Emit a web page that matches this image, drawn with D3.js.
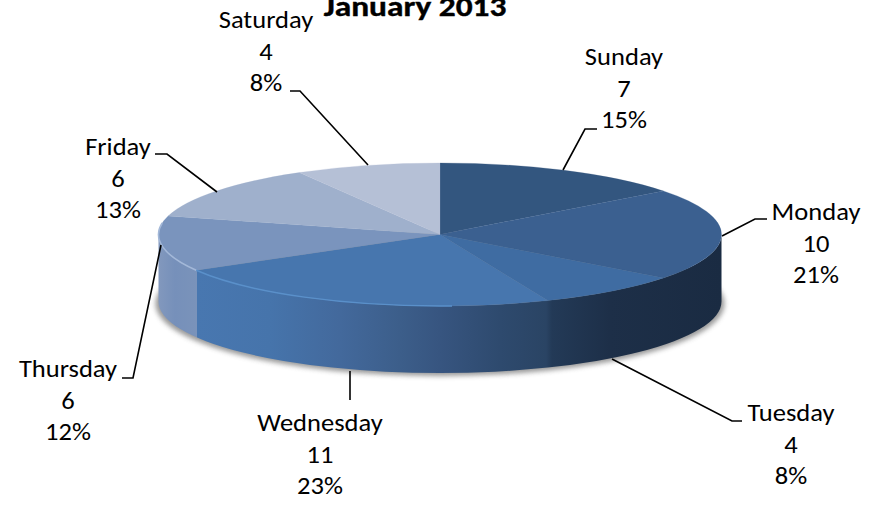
<!DOCTYPE html>
<html><head><meta charset="utf-8">
<script src="https://cdn.jsdelivr.net/npm/d3@7"></script>
<style>html,body{margin:0;padding:0;background:#fff;overflow:hidden}svg{display:block}text{font-family:Carlito,Lato,"Open Sans",sans-serif;fill:#000}</style>
</head><body><div id="c"></div>
<script>
const title = "January 2013";
const days = ["Sunday","Monday","Tuesday","Wednesday","Thursday","Friday","Saturday"];
const counts = [7,10,4,11,6,6,4];
const percents = ["15%","21%","8%","23%","12%","13%","8%"];
const topColors = ["#33567f","#3b6090","#3f6ca2","#4776ae","#7a94bd","#9fb0cc","#b5c0d6"];

// layout
const W=877,H=505,cx=440,cy=234.5,rx=281.5,ry=71.5,depth=67;
const labelPos = [[624,57],[816,212],[791,413],[320,423],[68,369],[118,147],[266,20]];
const leaders = [
 [[563,170],[585,129],[597,129]],
 [[722,236],[755,219],[767,219]],
 [[612,359],[732,421],[742,421]],
 [[350,371],[350,400]],
 [[161,245],[133,378],[122,378]],
 [[217,192],[167,154],[155,154]],
 [[368,165],[300,91],[290,91]]
];

const svg=d3.select("#c").append("svg").attr("width",W).attr("height",H);
const defs=svg.append("defs");
defs.append("filter").attr("id","blur").attr("x","-5%").attr("y","-20%").attr("width","110%").attr("height","140%")
  .append("feGaussianBlur").attr("stdDeviation",2.5);

const sideX=d3.scaleLinear().domain([cx-rx,cx+rx]).range([0,1]);
const grad=defs.append("linearGradient").attr("id","side").attr("gradientUnits","userSpaceOnUse")
  .attr("x1",cx-rx).attr("x2",cx+rx).attr("y1",0).attr("y2",0);
[[158,"#8298bd"],[175,"#7690ba"],[196.5,"#7a93ba"],[197,"#4877b0"],[270,"#4674ab"],[340,"#43699c"],[400,"#3c5e8a"],[440,"#375580"],[500,"#2e4a6e"],[546,"#2a4464"],[552,"#233a57"],[610,"#1d2f48"],[722,"#1a2b42"]]
  .forEach(([x,c])=>grad.append("stop").attr("offset",sideX(x)).attr("stop-color",c));

// shadow
svg.append("ellipse").attr("cx",cx).attr("cy",cy+depth+2).attr("rx",rx+3).attr("ry",ry+1)
  .attr("fill","#777").attr("opacity",0.75).attr("filter","url(#blur)");

const arcs=d3.pie().sort(null).value(d=>d)(counts);
const px=a=>cx+rx*Math.sin(a), py=a=>cy-ry*Math.cos(a);

// front wall
const frontStart=Math.PI/2, frontEnd=Math.PI*3/2;
const front=`M${px(frontStart)},${py(frontStart)}A${rx},${ry} 0 0 1 ${px(frontEnd)},${py(frontEnd)}`
  +`L${px(frontEnd)},${py(frontEnd)+depth}A${rx},${ry} 0 0 0 ${px(frontStart)},${py(frontStart)+depth}Z`;
svg.append("path").attr("d",front).attr("fill","url(#side)");

// top faces
const arcGen=d3.arc().innerRadius(0).outerRadius(rx);
const topFace=svg.append("g").attr("transform",`translate(${cx},${cy}) scale(1,${ry/rx})`);
topFace.selectAll("path").data(arcs).join("path").attr("d",arcGen)
  .attr("fill",(d,i)=>topColors[i]).attr("stroke",(d,i)=>topColors[i]).attr("stroke-width",0.4);

// rim highlight on the front-left edge
const rim=(a0,a1,c,w)=>svg.append("path")
  .attr("d",`M${px(a0)},${py(a0)}A${rx},${ry} 0 0 1 ${px(a1)},${py(a1)}`)
  .attr("fill","none").attr("stroke",c).attr("stroke-width",w);
rim(arcs[3].startAngle+0.35,arcs[3].endAngle,"#5a90ca",1.4);
rim(arcs[4].startAngle,arcs[4].endAngle-0.1,"#a3b8d8",1.6);

// leaders
const line=d3.line();
svg.append("g").selectAll("path").data(leaders).join("path").attr("d",line)
  .attr("fill","none").attr("stroke","#000").attr("stroke-width",1.6);

// labels
const lab=svg.append("g").attr("font-size",23.5).attr("text-anchor","middle");
days.forEach((d,i)=>{
  const [x,y]=labelPos[i];
  [d,String(counts[i]),percents[i]].forEach((t,j)=>{
    lab.append("text").attr("transform",`translate(${x},${y+j*31.7+8}) scale(1.13,1)`).text(t);
  });
});
svg.append("text").attr("transform","translate(415,16) scale(1.15,1)").attr("text-anchor","middle")
  .attr("font-size",29).attr("font-weight",700).attr("stroke","#000").attr("stroke-width",0.4).text(title);
</script></body></html>
